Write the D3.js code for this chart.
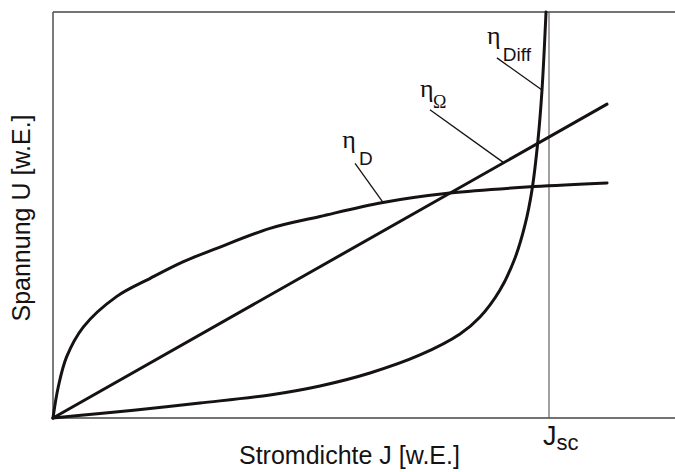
<!DOCTYPE html>
<html>
<head>
<meta charset="utf-8">
<script src="https://cdn.jsdelivr.net/npm/d3@7"></script>
<style>
  body { margin: 0; background: #fff; }
  svg { display: block; }
</style>
</head>
<body>
<div id="canvas"></div>
<script>
// curves in "w.E." units, J_sc = 1
var etaD = [[0, 0], [0.0107, 0.077], [0.0276, 0.151], [0.061, 0.224], [0.128, 0.299],
    [0.196, 0.344], [0.263, 0.385], [0.330, 0.418], [0.4375, 0.467], [0.5383, 0.4963],
    [0.6653, 0.5308], [0.800, 0.554], [0.970, 0.570], [1.117, 0.579]];
var etaOhm = [[0, 0], [1.117, 0.773]];
var etaDiff = [[0, 0], [0.0948, 0.0111], [0.1956, 0.0234], [0.2964, 0.0369], [0.4375, 0.0567],
    [0.5383, 0.0788], [0.6391, 0.1108], [0.7399, 0.1552], [0.8206, 0.2069], [0.8609, 0.2488],
    [0.9012, 0.3153], [0.9315, 0.3941], [0.9516, 0.4754], [0.9657, 0.5616], [0.9778, 0.6847],
    [0.9859, 0.8079], [0.9940, 1.0]];
var jsc = 1;

// labels: text position + leader line (from, to) in data units
var labels = [
    { sub: "D",    subFont: "sans", tx: 0.583, ty: 0.665, sx: 0.617, sy: 0.622, from: [0.609, 0.627], to: [0.6653, 0.5308] },
    { sub: "\u03A9", subFont: "serif", tx: 0.740, ty: 0.790, sx: 0.766, sy: 0.764, from: [0.760, 0.759], to: [0.9085, 0.629] },
    { sub: "Diff", subFont: "sans", tx: 0.875, ty: 0.921, sx: 0.907, sy: 0.879, from: [0.895, 0.887], to: [0.9859, 0.8079] }
];

var w = 675, h = 472;
var svg = d3.select("#canvas").append("svg").attr("width", w).attr("height", h);

var x = d3.scaleLinear().domain([0, 1]).range([53, 549]);
var y = d3.scaleLinear().domain([0, 1]).range([418, 12]);
var xMax = x.invert(w);

var sans = "'Liberation Sans', Arial, sans-serif";
var serif = "'Liberation Serif', 'Times New Roman', serif";
var ink = "#161212";

// frame: left, top, bottom (top and bottom run to the right edge)
var frame = svg.append("g").attr("stroke", "#444").attr("stroke-width", 1.4).attr("fill", "none");
frame.append("line").attr("x1", x(0)).attr("x2", x(0)).attr("y1", y(1)).attr("y2", y(0));
frame.append("line").attr("x1", x(0)).attr("x2", x(xMax)).attr("y1", y(1)).attr("y2", y(1));
frame.append("line").attr("x1", x(0)).attr("x2", x(xMax)).attr("y1", y(0)).attr("y2", y(0));

// J_sc marker
svg.append("line")
    .attr("x1", x(jsc)).attr("x2", x(jsc))
    .attr("y1", y(1)).attr("y2", y(0))
    .attr("stroke", "#555").attr("stroke-width", 1.1);

var line = d3.line().x(d => x(d[0])).y(d => y(d[1])).curve(d3.curveCatmullRom.alpha(0.5));

var curves = svg.append("g").attr("fill", "none").attr("stroke", ink)
    .attr("stroke-width", 3).attr("stroke-linecap", "round");
[etaD, etaOhm, etaDiff].forEach(function(c) {
    curves.append("path").attr("d", line(c));
});

// labels with leader lines
labels.forEach(function(l) {
    svg.append("line")
        .attr("x1", x(l.from[0])).attr("y1", y(l.from[1]))
        .attr("x2", x(l.to[0])).attr("y2", y(l.to[1]))
        .attr("stroke", ink).attr("stroke-width", 1.3);
    svg.append("text")
        .attr("x", x(l.tx)).attr("y", y(l.ty))
        .style("font-family", serif).style("font-size", "26px").style("fill", ink)
        .text("\u03B7");
    svg.append("text")
        .attr("x", x(l.sx)).attr("y", y(l.sy))
        .style("font-family", l.subFont == "serif" ? serif : sans)
        .style("font-size", l.subFont == "serif" ? "18px" : "19px")
        .style("fill", ink)
        .text(l.sub);
});

// J_sc tick label
var js = svg.append("text").attr("x", x(jsc) - 6).attr("y", 445)
    .style("font-family", sans).style("fill", ink);
js.append("tspan").style("font-size", "27px").text("J");
js.append("tspan").attr("dy", 5).style("font-size", "22px").text("sc");

// axis titles
svg.append("text")
    .attr("x", 239).attr("y", 464)
    .style("font-family", sans).style("font-size", "25px").style("fill", ink)
    .text("Stromdichte J [w.E.]");

svg.append("text")
    .attr("transform", "translate(29.5," + 218 + ") rotate(-90)")
    .attr("text-anchor", "middle")
    .style("font-family", sans).style("font-size", "25px").style("fill", ink)
    .text("Spannung U [w.E.]");
</script>
</body>
</html>
